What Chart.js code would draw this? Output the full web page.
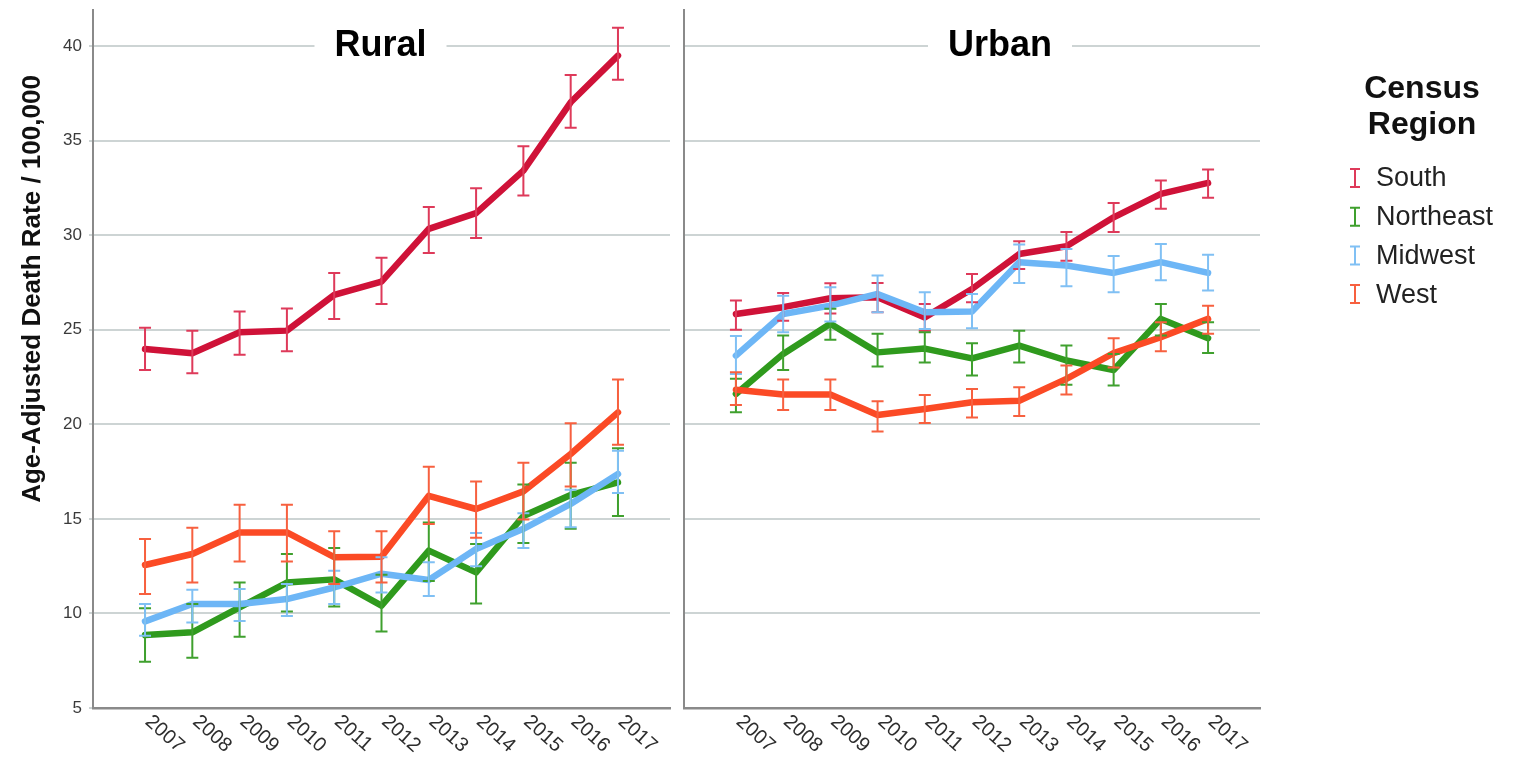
<!DOCTYPE html>
<html>
<head>
<meta charset="utf-8">
<script src="https://cdn.jsdelivr.net/npm/chart.js@4.4.1/dist/chart.umd.min.js"></script>
<style>
  html, body { margin: 0; padding: 0; background: #ffffff; }
  #wrap { position: relative; width: 1517px; height: 757px; overflow: hidden; }
  canvas { position: absolute; top: 0; }
  #rural { left: 0; }
  #urban { left: 674px; }
</style>
</head>
<body>
<div id="wrap">
  <canvas id="rural" width="680" height="757"></canvas>
  <canvas id="urban" width="843" height="757"></canvas>
</div>
<script>
// Survey years and value-axis ticks
const years = [2007, 2008, 2009, 2010, 2011, 2012, 2013, 2014, 2015, 2016, 2017];
const yTicks = [5, 10, 15, 20, 25, 30, 35, 40];
const regions = ['South', 'Northeast', 'Midwest', 'West'];

// Rural: age-adjusted death rate per 100,000 with 95% CI bounds
const ruralSouth     = [23.98, 23.75, 24.86, 24.95, 26.84, 27.54, 30.33, 31.16, 33.41, 37.02, 39.49];
const ruralSouthLo   = [22.87, 22.70, 23.67, 23.86, 25.57, 26.36, 29.06, 29.85, 32.09, 35.67, 38.21];
const ruralSouthHi   = [25.10, 24.95, 25.96, 26.12, 27.99, 28.80, 31.48, 32.48, 34.70, 38.47, 40.96];

const ruralNortheast   = [8.86, 9.00, 10.32, 11.63, 11.80, 10.41, 13.32, 12.17, 15.15, 16.26, 16.93];
const ruralNortheastLo = [7.45, 7.66, 8.77, 10.10, 10.36, 9.04, 11.72, 10.52, 13.72, 14.47, 15.15];
const ruralNortheastHi = [10.27, 10.50, 11.63, 13.14, 13.46, 12.04, 14.81, 13.67, 16.82, 17.96, 18.73];

const ruralMidwest   = [9.58, 10.50, 10.50, 10.76, 11.37, 12.10, 11.77, 13.41, 14.47, 15.79, 17.37];
const ruralMidwestLo = [8.82, 9.52, 9.60, 9.87, 10.50, 11.10, 10.92, 12.50, 13.46, 14.55, 16.37];
const ruralMidwestHi = [10.50, 11.25, 11.29, 11.56, 12.25, 12.97, 12.70, 14.25, 15.30, 16.54, 18.60];

const ruralWest   = [12.56, 13.14, 14.28, 14.28, 12.97, 13.00, 16.22, 15.52, 16.45, 18.43, 20.63];
const ruralWestLo = [11.03, 11.63, 12.75, 12.75, 11.56, 11.63, 14.73, 14.00, 14.96, 16.71, 18.92];
const ruralWestHi = [13.94, 14.53, 15.74, 15.74, 14.35, 14.35, 17.75, 16.97, 17.96, 20.05, 22.36];

// Urban
const urbanSouth   = [25.83, 26.19, 26.66, 26.71, 25.65, 27.15, 29.00, 29.41, 30.94, 32.18, 32.76];
const urbanSouthLo = [24.99, 25.47, 25.86, 25.92, 24.95, 26.45, 28.21, 28.65, 30.16, 31.39, 31.97];
const urbanSouthHi = [26.54, 26.94, 27.45, 27.47, 26.36, 27.95, 29.68, 30.16, 31.70, 32.89, 33.47];

const urbanNortheast   = [21.60, 23.72, 25.31, 23.80, 24.00, 23.48, 24.16, 23.37, 22.87, 25.57, 24.55];
const urbanNortheastLo = [20.63, 22.87, 24.47, 23.06, 23.27, 22.58, 23.27, 22.09, 22.05, 24.69, 23.77];
const urbanNortheastHi = [22.40, 24.69, 26.10, 24.78, 24.86, 24.28, 24.95, 24.16, 23.72, 26.36, 25.39];

const urbanMidwest   = [23.63, 25.83, 26.27, 26.89, 25.92, 25.96, 28.57, 28.39, 28.00, 28.57, 28.00];
const urbanMidwestLo = [22.66, 24.86, 25.43, 25.92, 25.04, 25.08, 27.47, 27.29, 26.98, 27.61, 27.07];
const urbanMidwestHi = [24.66, 26.80, 27.24, 27.86, 26.98, 26.89, 29.50, 29.27, 28.89, 29.53, 28.96];

const urbanWest   = [21.83, 21.57, 21.57, 20.49, 20.81, 21.16, 21.24, 22.40, 23.76, 24.60, 25.57];
const urbanWestLo = [21.02, 20.76, 20.76, 19.62, 20.07, 20.36, 20.44, 21.57, 23.00, 23.86, 24.78];
const urbanWestHi = [22.75, 22.36, 22.36, 21.21, 21.55, 21.87, 21.96, 23.10, 24.55, 25.39, 26.27];

// Styling
const lineColors = { South: '#cf1238', Northeast: '#2f9a1d', Midwest: '#6db6f6', West: '#fb4a25' };
const barColors  = { South: '#de3a5a', Northeast: '#3fa02e', Midwest: '#80c0f4', West: '#f7603f' };
const drawOrder  = { South: 3, Northeast: 2, Midwest: 1, West: 0 };
const FONT = '"Liberation Sans", Arial, Helvetica, sans-serif';
const gridColor = '#cdd4d4';
const axisColor = '#8a8a8a';

function makeDatasets(series) {
  return regions.map(name => {
    const s = series[name];
    return {
      label: name,
      data: years.map((yr, i) => ({ x: yr, y: s.v[i] })),
      errLo: s.lo,
      errHi: s.hi,
      borderColor: lineColors[name],
      barColor: barColors[name],
      borderWidth: 6.5,
      pointRadius: 0,
      tension: 0,
      fill: false,
      order: drawOrder[name],
      borderCapStyle: 'round',
      borderJoinStyle: 'round'
    };
  });
}

// Confidence-interval whiskers with caps at each year
const errorBars = {
  id: 'errorBars',
  afterDatasetsDraw(chart) {
    const ctx = chart.ctx;
    const xs = chart.scales.x, ys = chart.scales.y;
    const sets = chart.data.datasets.slice().sort((a, b) => b.order - a.order);
    ctx.save();
    sets.forEach(d => {
      ctx.strokeStyle = d.barColor;
      ctx.lineWidth = 2;
      ctx.lineCap = 'butt';
      years.forEach((yr, k) => {
        const x = xs.getPixelForValue(yr);
        const y1 = ys.getPixelForValue(d.errLo[k]);
        const y2 = ys.getPixelForValue(d.errHi[k]);
        ctx.beginPath();
        ctx.moveTo(x, y1); ctx.lineTo(x, y2);
        ctx.moveTo(x - 6, y1); ctx.lineTo(x + 6, y1);
        ctx.moveTo(x - 6, y2); ctx.lineTo(x + 6, y2);
        ctx.stroke();
      });
    });
    ctx.restore();
  }
};

// Slanted year labels running down to the right from each tick
const yearLabels = {
  id: 'yearLabels',
  afterDraw(chart) {
    const ctx = chart.ctx;
    const xs = chart.scales.x;
    const base = chart.chartArea.bottom;
    ctx.save();
    ctx.fillStyle = '#2e2e2e';
    ctx.font = '20px ' + FONT;
    ctx.textAlign = 'left';
    ctx.textBaseline = 'middle';
    years.forEach(yr => {
      const x = xs.getPixelForValue(yr);
      ctx.save();
      ctx.translate(x + 3, base + 11);
      ctx.rotate(42 * Math.PI / 180);
      ctx.fillText(String(yr), 0, 0);
      ctx.restore();
    });
    ctx.restore();
  }
};

// Panel heading sitting on the top gridline
const panelTitle = {
  id: 'panelTitle',
  afterDraw(chart, args, opts) {
    const ctx = chart.ctx;
    const ca = chart.chartArea;
    const y = chart.scales.y.getPixelForValue(40);
    const cx = (ca.left + ca.right) / 2 + (opts.shift || 0);
    ctx.save();
    ctx.font = 'bold 36px ' + FONT;
    const w = ctx.measureText(opts.text).width;
    ctx.fillStyle = '#ffffff';
    ctx.fillRect(cx - w / 2 - 20, y - 4, w + 40, 8);
    ctx.fillStyle = '#000000';
    ctx.textAlign = 'center';
    ctx.textBaseline = 'middle';
    ctx.fillText(opts.text, cx, y);
    ctx.restore();
  }
};

// Rotated value-axis title
const axisTitle = {
  id: 'axisTitle',
  afterDraw(chart, args, opts) {
    if (!opts.text) return;
    const ctx = chart.ctx;
    ctx.save();
    ctx.translate(opts.x, opts.y);
    ctx.rotate(-Math.PI / 2);
    ctx.font = 'bold 26px ' + FONT;
    ctx.fillStyle = '#111111';
    ctx.textAlign = 'center';
    ctx.textBaseline = 'middle';
    ctx.fillText(opts.text, 0, 0);
    ctx.restore();
  }
};

// Legend with whisker symbols to the right of the panels
const regionLegend = {
  id: 'regionLegend',
  afterDraw(chart, args, opts) {
    if (!opts.show) return;
    const ctx = chart.ctx;
    const left = chart.chartArea.right;
    const cx = left + 162;
    ctx.save();
    ctx.fillStyle = '#111111';
    ctx.font = 'bold 32px ' + FONT;
    ctx.textAlign = 'center';
    ctx.textBaseline = 'middle';
    ctx.fillText('Census', cx, 89);
    ctx.fillText('Region', cx, 125);
    ctx.font = '27px ' + FONT;
    ctx.textAlign = 'left';
    regions.forEach((name, i) => {
      const y = 178 + i * 38.7;
      const ix = left + 95;
      ctx.strokeStyle = barColors[name];
      ctx.lineWidth = 2;
      ctx.beginPath();
      ctx.moveTo(ix, y - 9); ctx.lineTo(ix, y + 9);
      ctx.moveTo(ix - 5, y - 9); ctx.lineTo(ix + 5, y - 9);
      ctx.moveTo(ix - 5, y + 9); ctx.lineTo(ix + 5, y + 9);
      ctx.stroke();
      ctx.fillStyle = '#222222';
      ctx.fillText(name, left + 116, y + 1);
    });
    ctx.restore();
  }
};

function makeOptions(cfg) {
  return {
    responsive: false,
    animation: false,
    devicePixelRatio: 1,
    layout: { padding: { left: 0, right: cfg.padRight, top: 10, bottom: 0 } },
    plugins: {
      legend: { display: false },
      tooltip: { enabled: false },
      panelTitle: { text: cfg.title, shift: cfg.titleShift },
      axisTitle: { text: cfg.axisTitle, x: 33, y: 289 },
      regionLegend: { show: cfg.legend }
    },
    scales: {
      x: {
        type: 'linear',
        min: 2005.9,
        max: 2018.1,
        grid: { display: false },
        border: { display: true, color: axisColor, width: 2.5 },
        ticks: { display: false },
        afterFit(scale) { scale.height = 49; scale.paddingLeft = 0; scale.paddingRight = 0; }
      },
      y: {
        type: 'linear',
        min: 5,
        max: 41.9,
        afterBuildTicks(scale) { scale.ticks = yTicks.map(v => ({ value: v })); },
        grid: { color: gridColor, lineWidth: 2, tickLength: 4, drawTicks: cfg.showTicks },
        border: { display: true, color: axisColor, width: 2 },
        ticks: {
          display: cfg.showTicks,
          color: '#3a3a3a',
          font: { family: FONT, size: 17 },
          padding: 7
        },
        afterFit(scale) { scale.width = cfg.yWidth; scale.paddingTop = 0; scale.paddingBottom = 0; }
      }
    }
  };
}

const plugins = [errorBars, yearLabels, panelTitle, axisTitle, regionLegend];

new Chart(document.getElementById('rural'), {
  type: 'line',
  data: {
    datasets: makeDatasets({
      South: { v: ruralSouth, lo: ruralSouthLo, hi: ruralSouthHi },
      Northeast: { v: ruralNortheast, lo: ruralNortheastLo, hi: ruralNortheastHi },
      Midwest: { v: ruralMidwest, lo: ruralMidwestLo, hi: ruralMidwestHi },
      West: { v: ruralWest, lo: ruralWestLo, hi: ruralWestHi }
    })
  },
  options: makeOptions({ title: 'Rural', titleShift: -1, axisTitle: 'Age-Adjusted Death Rate / 100,000',
                         showTicks: true, yWidth: 93, padRight: 10, legend: false }),
  plugins
});

new Chart(document.getElementById('urban'), {
  type: 'line',
  data: {
    datasets: makeDatasets({
      South: { v: urbanSouth, lo: urbanSouthLo, hi: urbanSouthHi },
      Northeast: { v: urbanNortheast, lo: urbanNortheastLo, hi: urbanNortheastHi },
      Midwest: { v: urbanMidwest, lo: urbanMidwestLo, hi: urbanMidwestHi },
      West: { v: urbanWest, lo: urbanWestLo, hi: urbanWestHi }
    })
  },
  options: makeOptions({ title: 'Urban', titleShift: 28, axisTitle: '',
                         showTicks: false, yWidth: 10, padRight: 257, legend: true }),
  plugins
});
</script>
</body>
</html>
